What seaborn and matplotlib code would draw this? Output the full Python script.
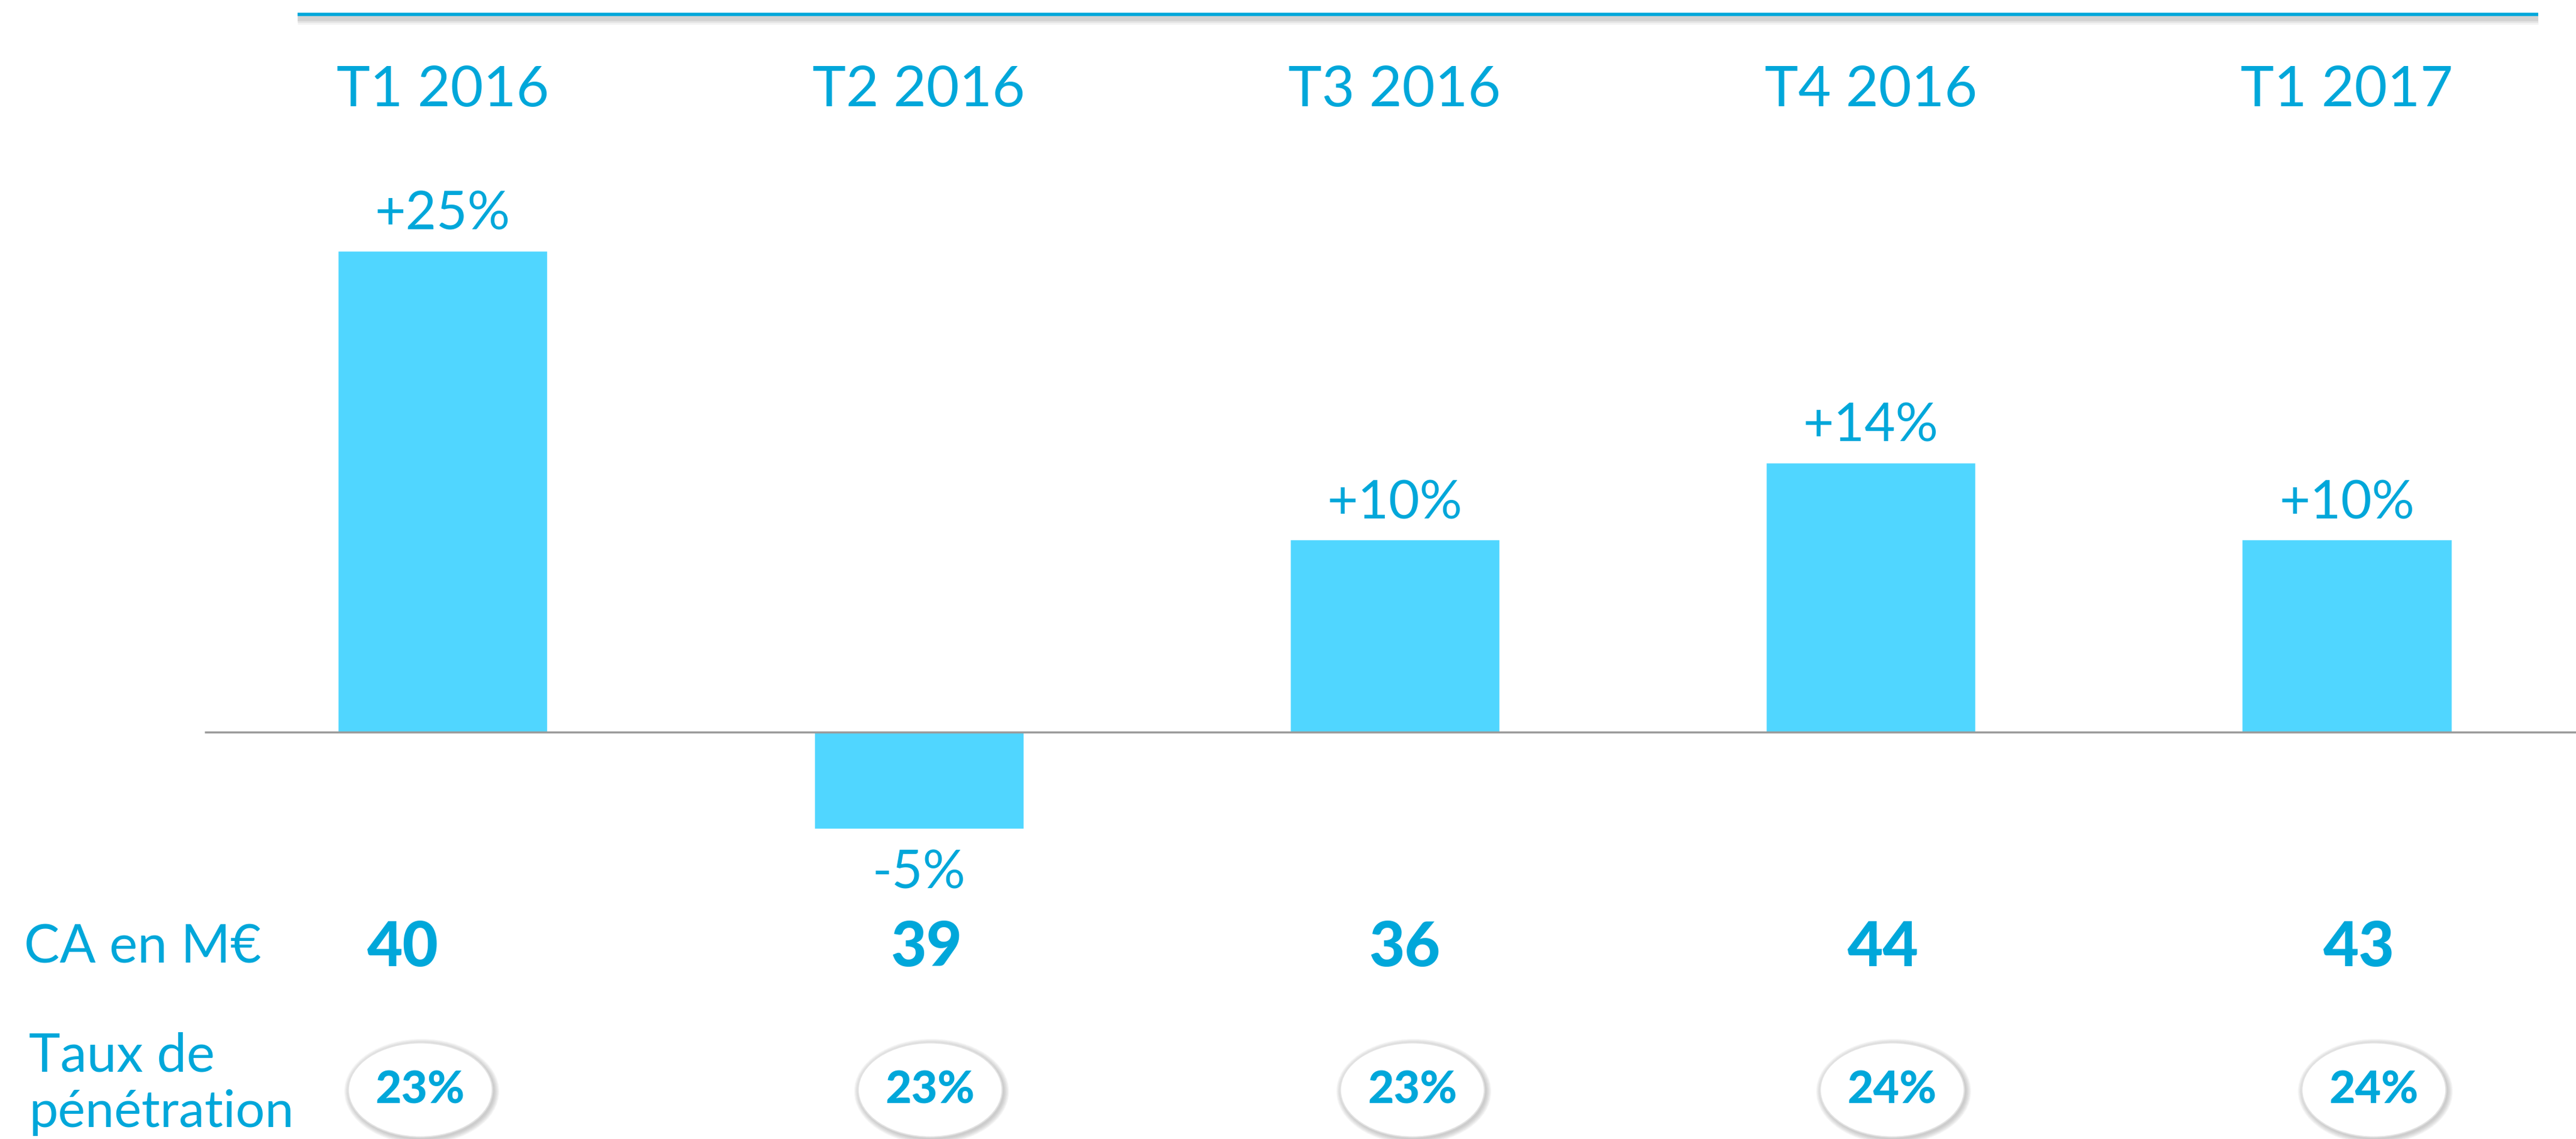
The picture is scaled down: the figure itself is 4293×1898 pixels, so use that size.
import numpy as np
import pandas as pd
import matplotlib
matplotlib.use("Agg")
import matplotlib.pyplot as plt
from matplotlib.patches import Ellipse
import seaborn as sns

# data
quarters = ["T1 2016", "T2 2016", "T3 2016", "T4 2016", "T1 2017"]
growth = [25, -5, 10, 14, 10]
growth_labels = ["+25%", "-5%", "+10%", "+14%", "+10%"]
ca_values = ["40", "39", "36", "44", "43"]
penetration = ["23%", "23%", "23%", "24%", "24%"]

# small horizontal nudges of the bottom rows relative to each bar
ca_shift = [-0.084, 0.016, 0.020, 0.026, 0.026]
pill_shift = [-0.047, 0.024, 0.037, 0.045, 0.057]

TEXT = "#00A7DA"
BAR = "#50D6FF"

sns.set_theme(style="white")
plt.rcParams["font.family"] = ["Lato", "DejaVu Sans"]

df = pd.DataFrame({"quarter": quarters, "growth": growth})

fig = plt.figure(figsize=(42.93, 18.99), dpi=100)
ax = fig.add_axes([0, 0, 1, 1])

sns.barplot(data=df, x="quarter", y="growth", color=BAR, saturation=1,
            width=0.44, ax=ax)

ax.set_xlim(-0.93, 4.4815)
ax.set_ylim(-21.12, 38.04)
ax.axis("off")

# baseline
ax.hlines(0, -0.5, 4.4815, color="#9b9b9b", lw=2.5, zorder=3)

# top rule with a soft shadow
for k, a in enumerate([0.10, 0.14, 0.18]):
    ax.hlines(37.26 - 0.22, -0.305, 4.402, color="#888888", lw=14 - 4 * k,
              alpha=a, zorder=1)
ax.hlines(37.26, -0.305, 4.402, color=TEXT, lw=4, zorder=2)

for i, (q, g, lab) in enumerate(zip(quarters, growth, growth_labels)):
    ax.text(i, 33.33, q, color=TEXT, fontsize=68, ha="center", va="center")
    off = 1.9 if g >= 0 else -2.3
    ax.text(i, g + off, lab, color=TEXT, fontsize=64, ha="center",
            va="center")

# bottom rows
ew, eh = 240 / 793.25, 157 / 32.1
for i, (ca, pen) in enumerate(zip(ca_values, penetration)):
    ax.text(i + ca_shift[i], -11.18, ca, color=TEXT, fontsize=74,
            fontweight="black", ha="center", va="center")
    cx = i + pill_shift[i]
    cy = -18.57
    # soft shadow rings
    for k in range(6, 0, -1):
        grow = k * 3
        sh = Ellipse((cx + 0.003, cy - 0.08), ew + grow / 793.25,
                     eh + grow / 32.1, facecolor="#7a7a7a", edgecolor="none",
                     alpha=0.07, zorder=4)
        ax.add_patch(sh)
    circ = Ellipse((cx, cy), ew, eh, facecolor="white", edgecolor="#e2e2e2",
                   lw=1.5, zorder=5)
    ax.add_patch(circ)
    ax.text(cx, cy, pen, color=TEXT, fontsize=54, fontweight="black",
            ha="center", va="center", zorder=6)

ax.text(-0.879, -11.18, "CA en M€", color=TEXT, fontsize=64, ha="left",
        va="center")
ax.text(-0.869, -16.79, "Taux de", color=TEXT, fontsize=64, ha="left",
        va="center")
ax.text(-0.869, -19.72, "pénétration", color=TEXT, fontsize=62, ha="left",
        va="center")

fig.savefig("out.png", dpi=100, facecolor="white")
